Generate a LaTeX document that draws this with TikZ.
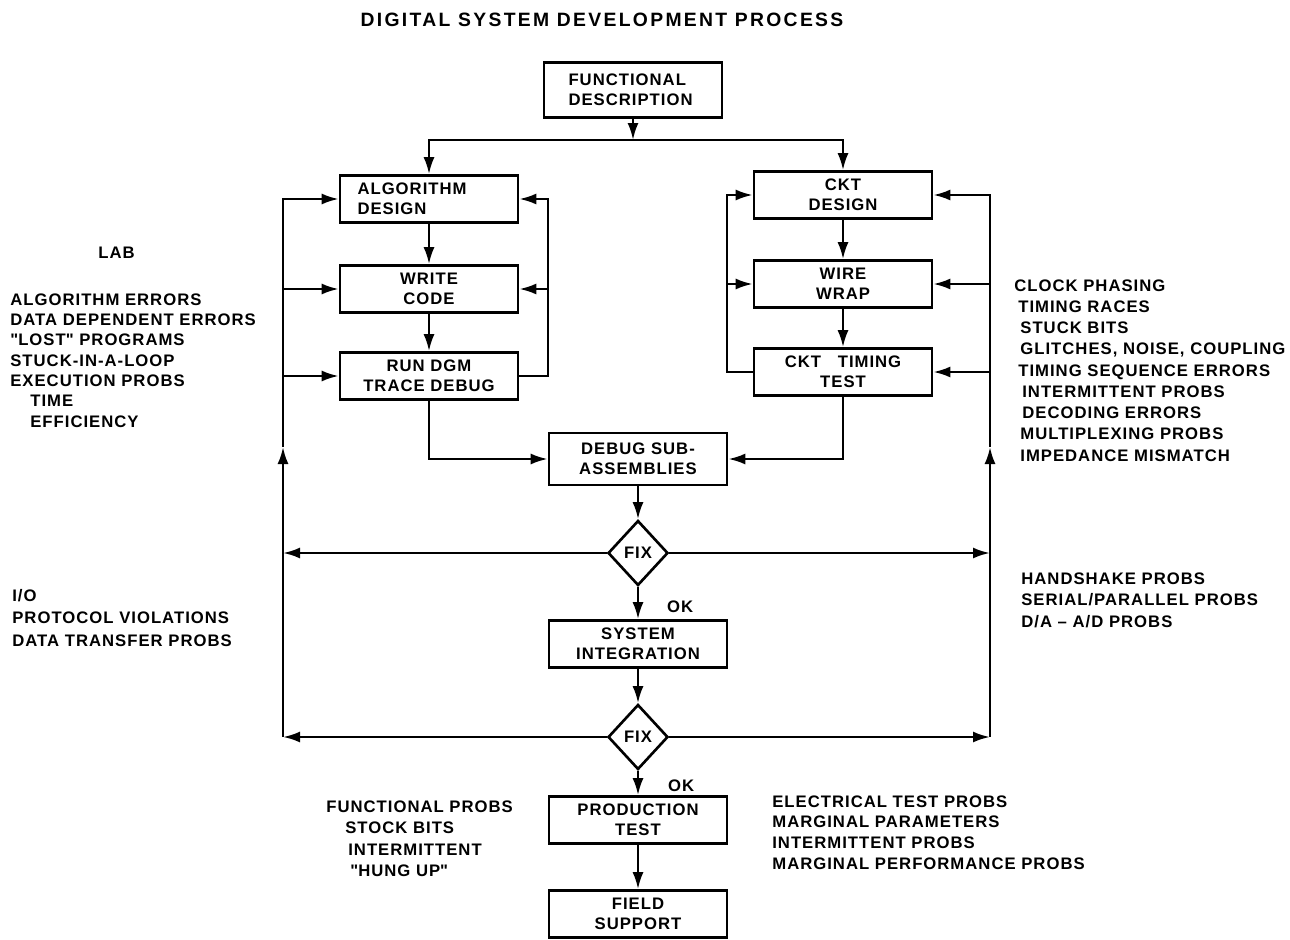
\documentclass[tikz,border=0pt]{standalone}
\usepackage{fontspec}
\setmainfont{Liberation Sans}[LetterSpace=6]
\usetikzlibrary{arrows.meta,positioning,shapes.geometric}

\begin{document}
\begin{tikzpicture}[x=0.02cm,y=-0.02cm,>={Latex[length=3.4mm,width=2.2mm]},
  every node/.style={font=\fontsize{9.5}{11.6}\selectfont\bfseries},
  box/.style={draw,line width=1.5pt,minimum width=3.56cm,minimum height=0.94cm,align=center,inner sep=2pt},
  fix/.style={draw,line width=1.5pt,diamond,minimum width=1.2cm,minimum height=1.3cm,inner sep=0pt},
  note/.style={align=left,anchor=north west,inner sep=0pt},
  flow/.style={line width=1.4pt}]
  \useasboundingbox (0,0) rectangle (1290,939);
  % title and boxes
  \node[font=\fontsize{11}{13}\selectfont\bfseries\addfontfeatures{LetterSpace=12}] (title) at (602,20) {DIGITAL SYSTEM DEVELOPMENT PROCESS};
  \node[box,minimum height=1.1cm,text width=2.58cm,align=left] (func) at (633,90) {FUNCTIONAL\\DESCRIPTION};
  \node[box,text width=2.86cm,align=left] (alg) at (429,199) {ALGORITHM\\DESIGN};
  \node[box] (code) at (429,289) {WRITE\\CODE};
  \node[box] (run) at (429,376) {RUN DGM\\TRACE DEBUG};
  \node[box] (ckt) at (843,195) {CKT\\DESIGN};
  \node[box] (wire) at (843,284) {WIRE\\WRAP};
  \node[box] (tim) at (843,372) {CKT\quad TIMING\\TEST};
  \node[box,minimum height=1.04cm] (dbg) at (638,459) {DEBUG SUB-\\ASSEMBLIES};
  \node[fix] (fix1) at (638,553) {FIX};
  \node[box] (sys) at (638,644) {SYSTEM\\INTEGRATION};
  \node[fix] (fix2) at (638,737) {FIX};
  \node[box] (prod) at (638,820) {PRODUCTION\\TEST};
  \node[box] (field) at (638,914) {FIELD\\SUPPORT};
  \node[anchor=west] (ok1) at (661,607) {OK};
  \node[anchor=west] (ok2) at (662,786) {OK};
  % loop corners
  \coordinate (split) at (633,140);
  \coordinate (lx) at (283,0);
  \coordinate (rx) at (990,0);
  \coordinate (lup) at (283,447);
  \coordinate (rup) at (990,447);
  \coordinate (lin) at (548,0);
  \coordinate (rin) at (727,0);
  % main flow
  \draw[flow,->] (func) -- (split);
  \draw[flow,->] (split) -| (alg);
  \draw[flow,->] (split) -| (ckt);
  \draw[flow,->] (alg) -- (code);
  \draw[flow,->] (code) -- (run);
  \draw[flow,->] (ckt) -- (wire);
  \draw[flow,->] (wire) -- (tim);
  \draw[flow,->] (run) |- (dbg);
  \draw[flow,->] (tim) |- (dbg);
  \draw[flow,->] (dbg) -- (fix1);
  \draw[flow,->] (fix1) -- (sys);
  \draw[flow,->] (sys) -- (fix2);
  \draw[flow,->] (fix2) -- (prod);
  \draw[flow,->] (prod) -- (field);
  % inner loops
  \draw[flow,->] (run) -| (alg -| lin) -- (alg);
  \draw[flow,->] (code -| lin) -- (code);
  \draw[flow,->] (tim) -| (ckt -| rin) -- (ckt);
  \draw[flow,->] (wire -| rin) -- (wire);
  % fix loops
  \draw[flow,->] (fix1) -- (fix1 -| lx);
  \draw[flow,->] (fix2) -- (fix2 -| lx);
  \draw[flow,->] (fix2 -| lx) -- (lup);
  \draw[flow,->] (lup) |- (alg);
  \draw[flow,->] (code -| lx) -- (code);
  \draw[flow,->] (run -| lx) -- (run);
  \draw[flow,->] (fix1) -- (fix1 -| rx);
  \draw[flow,->] (fix2) -- (fix2 -| rx);
  \draw[flow,->] (fix2 -| rx) -- (rup);
  \draw[flow,->] (rup) |- (ckt);
  \draw[flow,->] (wire -| rx) -- (wire);
  \draw[flow,->] (tim -| rx) -- (tim);
  % problem lists
  \node[note] (lab) at (98,247) {LAB};
  \node[note] (labprobs) at (10,293) {ALGORITHM ERRORS\\DATA DEPENDENT ERRORS\\\textquotedbl LOST\textquotedbl\ PROGRAMS\\STUCK-IN-A-LOOP\\EXECUTION PROBS\\\hspace*{0.4cm}TIME\\\hspace*{0.4cm}EFFICIENCY};
  \node[note,font=\fontsize{9.5}{12.1}\selectfont\bfseries] (cktprobs) at (1014,279) {CLOCK PHASING\\\hspace*{0.08cm}TIMING RACES\\\hspace*{0.12cm}STUCK BITS\\\hspace*{0.12cm}GLITCHES, NOISE, COUPLING\\\hspace*{0.08cm}TIMING SEQUENCE ERRORS\\\hspace*{0.16cm}INTERMITTENT PROBS\\\hspace*{0.16cm}DECODING ERRORS\\\hspace*{0.12cm}MULTIPLEXING PROBS\\\hspace*{0.12cm}IMPEDANCE MISMATCH};
  \node[note,font=\fontsize{9.5}{12.7}\selectfont\bfseries] (ioprobs) at (12,589) {I/O\\PROTOCOL VIOLATIONS\\DATA TRANSFER PROBS};
  \node[note,font=\fontsize{9.5}{12.5}\selectfont\bfseries] (hsprobs) at (1021,572) {HANDSHAKE PROBS\\SERIAL/PARALLEL PROBS\\D/A -- A/D PROBS};
  \node[note,font=\fontsize{9.5}{12.3}\selectfont\bfseries] (funcprobs) at (326,800) {FUNCTIONAL PROBS\\\hspace*{0.38cm}STOCK BITS\\\hspace*{0.44cm}INTERMITTENT\\\hspace*{0.48cm}\textquotedbl HUNG UP\textquotedbl};
  \node[note,font=\fontsize{9.5}{11.8}\selectfont\bfseries] (elecprobs) at (772,795) {ELECTRICAL TEST PROBS\\MARGINAL PARAMETERS\\INTERMITTENT PROBS\\MARGINAL PERFORMANCE PROBS};
\end{tikzpicture}
\end{document}
